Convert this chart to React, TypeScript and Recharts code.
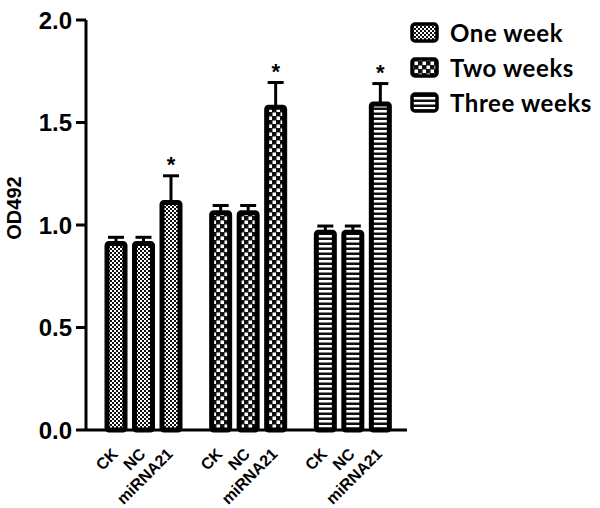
import { BarChart, Bar, XAxis, YAxis, ErrorBar, Cell, LabelList, Legend } from 'recharts';

const groups = ['One week', 'Two weeks', 'Three weeks'];
const treatments = ['CK', 'NC', 'miRNA21'];
const ckValues = [0.91, 1.06, 0.965];
const ncValues = [0.91, 1.06, 0.965];
const mirValues = [1.11, 1.575, 1.59];
const ckErr = [0.03, 0.035, 0.03];
const ncErr = [0.03, 0.035, 0.03];
const mirErr = [0.13, 0.12, 0.1];
const yTicks = [0, 0.5, 1.0, 1.5, 2.0];

const data = groups.map((g, i) => ({
  group: g,
  CK: ckValues[i],
  NC: ncValues[i],
  miRNA21: mirValues[i],
  ckE: [0, ckErr[i]],
  ncE: [0, ncErr[i]],
  mirE: [0, mirErr[i]],
}));

const BAR_SIZE = 18;
const BAR_GAP = 9.5;
const SLOT = BAR_SIZE + BAR_GAP;
const ARIAL = '"Liberation Sans", Arial, sans-serif';

function Patterns() {
  return (
    <defs>
      <pattern id="pat0" width="4" height="4" patternUnits="userSpaceOnUse">
        <rect width="4" height="4" fill="#111" />
        <rect x="0" y="0" width="2" height="2" fill="#fff" />
        <rect x="2" y="2" width="2" height="2" fill="#fff" />
      </pattern>
      <pattern id="pat1" width="8" height="8" patternUnits="userSpaceOnUse">
        <rect width="8" height="8" fill="#111" />
        <rect x="0.5" y="0.5" width="3.5" height="3.5" fill="#fff" />
        <rect x="4.5" y="4.5" width="3.5" height="3.5" fill="#fff" />
      </pattern>
      <pattern id="pat2" width="5" height="5" patternUnits="userSpaceOnUse">
        <rect width="5" height="5" fill="#111" />
        <rect x="0" y="0" width="5" height="2.5" fill="#fff" />
      </pattern>
    </defs>
  );
}

function GroupTick(props: any) {
  const { x, y } = props;
  return (
    <g>
      {treatments.map((t, i) => {
        const tx = x + (i - 1) * SLOT + 3;
        const ty = y + 17;
        return (
          <g key={t} transform={`translate(${tx},${ty}) rotate(-45)`}>
            <text x={0} y={0} textAnchor="end" fontFamily={ARIAL} fontWeight="bold" fontSize={16} fill="#000">{t}</text>
          </g>
        );
      })}
    </g>
  );
}

function Star(props: any) {
  const { x, y, width, height, value, index } = props;
  const capY = y - (mirErr[index] * height) / value;
  return (
    <text x={x + width / 2} y={capY - 4} textAnchor="middle" fontFamily={ARIAL} fontWeight="bold" fontSize={22} fill="#000">*</text>
  );
}

function LegendBox() {
  return (
    <div>
      {groups.map((g, i) => (
        <div key={g} style={{ display: 'flex', alignItems: 'center', height: 35 }}>
          <svg width={30} height={22} style={{ marginRight: 10 }}>
            <rect x={2} y={2} width={25} height={17} rx={3} fill={`url(#pat${i})`} stroke="#000" strokeWidth={3.5} />
          </svg>
          <span style={{ fontFamily: 'Lato, sans-serif', fontWeight: 700, fontSize: 24, letterSpacing: 0.6, color: '#000', lineHeight: 1 }}>{g}</span>
        </div>
      ))}
    </div>
  );
}

export default function App() {
  return (
    <div style={{ position: 'absolute', left: 0, top: 0, background: '#fff' }}>
      <BarChart width={600} height={508} data={data} margin={{ top: 20, right: 193, bottom: 0, left: 0 }}
        barSize={BAR_SIZE} barGap={BAR_GAP}>
        <Patterns />
        <XAxis dataKey="group" height={78} tickLine={false} tick={<GroupTick />} interval={0}
          axisLine={{ stroke: '#000', strokeWidth: 3 }} padding={{ left: 5, right: 2 }} />
        <YAxis width={86} domain={[0, 2]} ticks={yTicks} tickFormatter={(v: number) => v.toFixed(1)}
          axisLine={{ stroke: '#000', strokeWidth: 3 }} tickLine={{ stroke: '#000', strokeWidth: 3 }} tickSize={10} tickMargin={4}
          tick={{ fill: '#000', fontFamily: ARIAL, fontWeight: 'bold', fontSize: 24 }}
          label={{
            content: (p: any) => {
              const vb = p.viewBox;
              const cx = 21;
              const cy = vb.y + vb.height / 2 - 17;
              return (
                <text x={cx} y={cy} transform={`rotate(-90 ${cx} ${cy})`} textAnchor="middle"
                  fontFamily={ARIAL} fontWeight="bold" fontSize={20} fill="#000">OD492</text>
              );
            },
          }} />
        <Legend layout="horizontal" verticalAlign="middle" align="center" content={() => <LegendBox />}
          wrapperStyle={{ top: 15, left: 410, width: 190, height: 110 }} />
        <Bar dataKey="CK" isAnimationActive={false} stroke="#000" strokeWidth={5} radius={2}>
          {data.map((d, i) => <Cell key={d.group} fill={`url(#pat${i})`} />)}
          <ErrorBar dataKey="ckE" width={8} strokeWidth={3} stroke="#000" direction="y" />
        </Bar>
        <Bar dataKey="NC" isAnimationActive={false} stroke="#000" strokeWidth={5} radius={2}>
          {data.map((d, i) => <Cell key={d.group} fill={`url(#pat${i})`} />)}
          <ErrorBar dataKey="ncE" width={8} strokeWidth={3} stroke="#000" direction="y" />
        </Bar>
        <Bar dataKey="miRNA21" isAnimationActive={false} stroke="#000" strokeWidth={5} radius={2}>
          {data.map((d, i) => <Cell key={d.group} fill={`url(#pat${i})`} />)}
          <ErrorBar dataKey="mirE" width={8} strokeWidth={3} stroke="#000" direction="y" />
          <LabelList dataKey="miRNA21" content={<Star />} />
        </Bar>
      </BarChart>
    </div>
  );
}
